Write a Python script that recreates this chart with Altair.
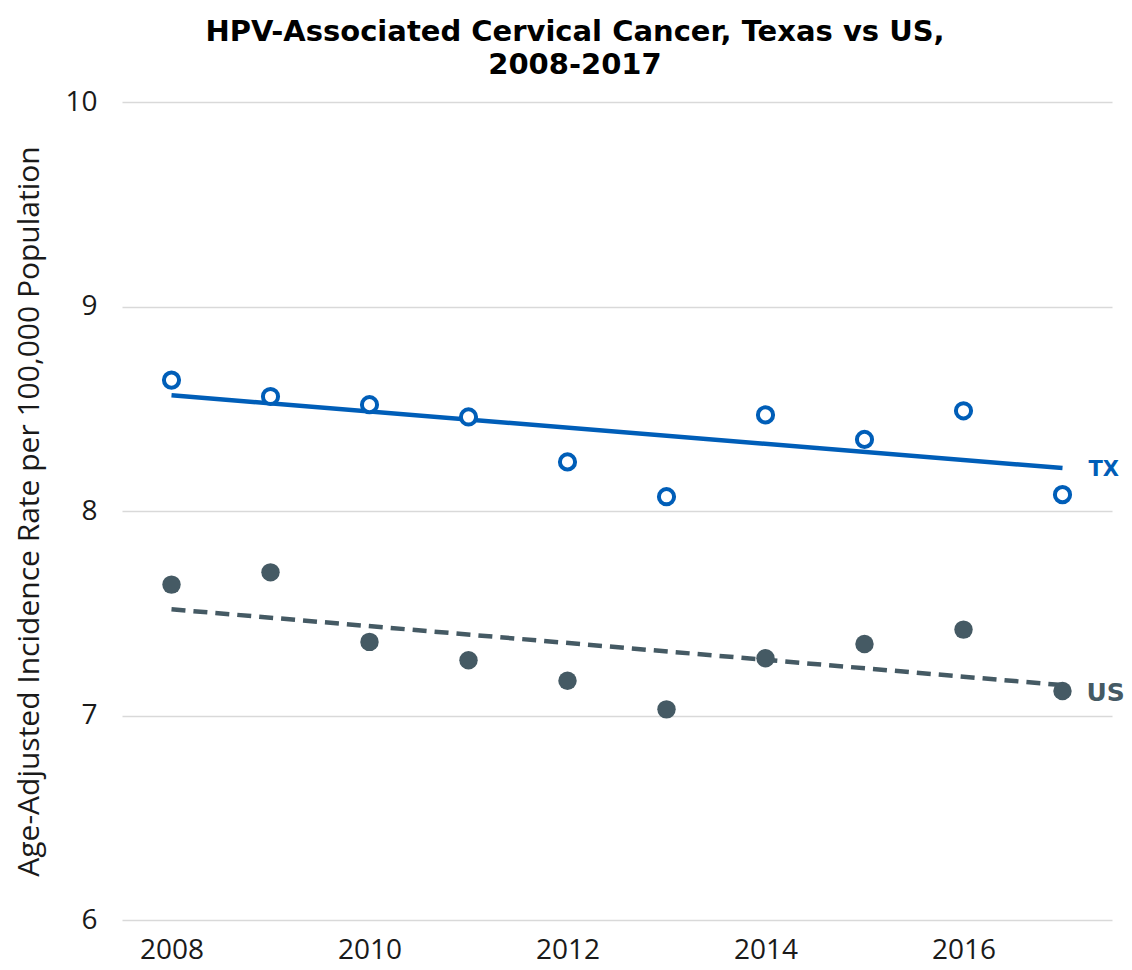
import altair as alt
import pandas as pd

years = [2008, 2009, 2010, 2011, 2012, 2013, 2014, 2015, 2016, 2017]
tx_rates = [8.64, 8.56, 8.52, 8.46, 8.24, 8.07, 8.47, 8.35, 8.49, 8.08]
us_rates = [7.64, 7.70, 7.36, 7.27, 7.17, 7.03, 7.28, 7.35, 7.42, 7.12]
y_ticks = [6, 7, 8, 9, 10]
x_ticks = [2008, 2010, 2012, 2014, 2016]

TX_COLOR = "#005EB8"
US_COLOR = "#455A64"
LABEL_FONT = "Open Sans"
BOLD_FONT = "DejaVu Sans"

tx = pd.DataFrame({"year": years, "rate": tx_rates})
us = pd.DataFrame({"year": years, "rate": us_rates})

xs = alt.X("year:Q", scale=alt.Scale(domain=[2007.5, 2017.5], nice=False, zero=False),
           axis=alt.Axis(values=x_ticks, format="d", title=None, grid=False, domain=False,
                         ticks=False, labelFont=LABEL_FONT, labelFontSize=28,
                         labelColor="#1a1a1a", labelPadding=16))
ys = alt.Y("rate:Q", scale=alt.Scale(domain=[6, 10], nice=False, zero=False),
           axis=alt.Axis(values=y_ticks, format="d",
                         title="Age-Adjusted Incidence Rate per 100,000 Population",
                         titleFont=LABEL_FONT, titleFontSize=30, titleFontWeight="normal",
                         titleColor="#1a1a1a", titlePadding=20,
                         grid=True, gridColor="#D9D9D9", gridWidth=1.5, domain=False, ticks=False,
                         labelFont=LABEL_FONT, labelFontSize=28, labelColor="#1a1a1a",
                         labelPadding=25))

tx_pts = alt.Chart(tx).mark_point(shape="circle", filled=False, fill="white", size=230,
                                  strokeWidth=4, color=TX_COLOR, opacity=1).encode(x=xs, y=ys)
us_pts = alt.Chart(us).mark_circle(size=340, color=US_COLOR, opacity=1).encode(x="year:Q", y="rate:Q")

tx_trend = alt.Chart(tx).transform_regression("year", "rate").mark_line(
    color=TX_COLOR, strokeWidth=4.5).encode(x="year:Q", y="rate:Q")
us_trend = alt.Chart(us).transform_regression("year", "rate").mark_line(
    color=US_COLOR, strokeWidth=4.5, strokeDash=[14, 8]).encode(x="year:Q", y="rate:Q")

tx_label = alt.Chart(tx).transform_regression("year", "rate").transform_filter(
    "datum.year > 2016.5").transform_calculate(lab="'TX'").mark_text(
    align="left", baseline="middle", dx=26, dy=2, font=BOLD_FONT, fontWeight="bold",
    fontSize=21, color=TX_COLOR).encode(x="year:Q", y="rate:Q", text="lab:N")
us_label = alt.Chart(us).transform_regression("year", "rate").transform_filter(
    "datum.year > 2016.5").transform_calculate(lab="'US'").mark_text(
    align="left", baseline="middle", dx=24, dy=8, font=BOLD_FONT, fontWeight="bold",
    fontSize=25, color=US_COLOR).encode(x="year:Q", y="rate:Q", text="lab:N")

chart = alt.layer(tx_trend, us_trend, tx_pts, us_pts, tx_label, us_label).properties(
    width=990, height=818,
    title=alt.TitleParams(["HPV-Associated Cervical Cancer, Texas vs US,", "2008-2017"],
                          font=BOLD_FONT, fontSize=29, fontWeight="bold", color="#000000",
                          anchor="middle", dx=-42, offset=8, lineHeight=33),
    autosize=alt.AutoSizeParams(type="none"),
    padding={"left": 114, "top": 94, "right": 12, "bottom": 48},
).configure_view(stroke=None)

chart.save("out.html", embed_options={"renderer": "svg", "actions": False})
